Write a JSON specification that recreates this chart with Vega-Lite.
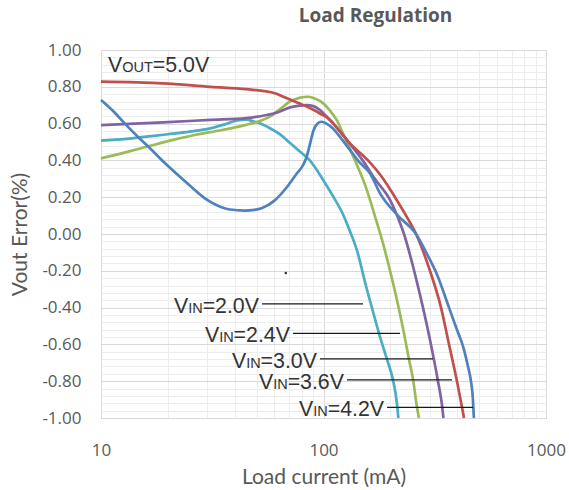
{
  "$schema": "https://vega.github.io/schema/vega-lite/v6.json",
  "width": 445,
  "height": 368,
  "autosize": {"type": "none"},
  "padding": {"left": 101, "top": 50, "right": 23, "bottom": 72},
  "background": "white",
  "title": {"text": "Load Regulation", "font": "Open Sans", "fontWeight": "bold", "fontSize": 19, "color": "#595959", "anchor": "middle", "dx": 52, "offset": 15},
  "config": {
    "view": {"stroke": "#D9D9D9", "strokeWidth": 1},
    "axis": {"labelFont": "Open Sans", "labelFontSize": 17, "labelColor": "#595959", "titleFont": "Lato", "titleFontSize": 21, "titleColor": "#595959", "titleFontWeight": "normal", "ticks": false, "domain": false, "labelOverlap": false, "labelFlush": false, "labelBound": false}
  },
  "datasets": {
    "curves": [
      {"vin":"2.0V","current":10,"error":0.507},{"vin":"2.0V","current":13,"error":0.517},{"vin":"2.0V","current":16,"error":0.529},{"vin":"2.0V","current":20,"error":0.542},{"vin":"2.0V","current":25,"error":0.556},{"vin":"2.0V","current":31,"error":0.574},{"vin":"2.0V","current":36,"error":0.596},{"vin":"2.0V","current":41,"error":0.617},{"vin":"2.0V","current":45,"error":0.621},{"vin":"2.0V","current":48,"error":0.614},{"vin":"2.0V","current":53,"error":0.596},{"vin":"2.0V","current":58,"error":0.572},{"vin":"2.0V","current":64,"error":0.54},{"vin":"2.0V","current":71,"error":0.493},{"vin":"2.0V","current":78,"error":0.45},{"vin":"2.0V","current":86,"error":0.405},{"vin":"2.0V","current":93,"error":0.35},{"vin":"2.0V","current":100,"error":0.29},{"vin":"2.0V","current":111,"error":0.2},{"vin":"2.0V","current":122,"error":0.11},{"vin":"2.0V","current":132,"error":0.01},{"vin":"2.0V","current":141.5,"error":-0.09},{"vin":"2.0V","current":155,"error":-0.28},{"vin":"2.0V","current":165,"error":-0.4},{"vin":"2.0V","current":177.6,"error":-0.54},{"vin":"2.0V","current":192.7,"error":-0.68},{"vin":"2.0V","current":205,"error":-0.79},{"vin":"2.0V","current":213.8,"error":-0.92},{"vin":"2.0V","current":217,"error":-1.0},
      {"vin":"2.4V","current":10,"error":0.411},{"vin":"2.4V","current":13,"error":0.445},{"vin":"2.4V","current":16,"error":0.474},{"vin":"2.4V","current":20,"error":0.505},{"vin":"2.4V","current":26.4,"error":0.538},{"vin":"2.4V","current":35,"error":0.565},{"vin":"2.4V","current":44.4,"error":0.592},{"vin":"2.4V","current":52,"error":0.615},{"vin":"2.4V","current":57.5,"error":0.638},{"vin":"2.4V","current":64,"error":0.68},{"vin":"2.4V","current":70.7,"error":0.72},{"vin":"2.4V","current":78,"error":0.74},{"vin":"2.4V","current":85.5,"error":0.746},{"vin":"2.4V","current":92,"error":0.735},{"vin":"2.4V","current":99.8,"error":0.71},{"vin":"2.4V","current":107,"error":0.67},{"vin":"2.4V","current":114.6,"error":0.62},{"vin":"2.4V","current":122,"error":0.55},{"vin":"2.4V","current":130,"error":0.475},{"vin":"2.4V","current":142,"error":0.37},{"vin":"2.4V","current":155,"error":0.255},{"vin":"2.4V","current":170,"error":0.1},{"vin":"2.4V","current":185,"error":-0.05},{"vin":"2.4V","current":201,"error":-0.22},{"vin":"2.4V","current":214,"error":-0.36},{"vin":"2.4V","current":230,"error":-0.54},{"vin":"2.4V","current":242,"error":-0.68},{"vin":"2.4V","current":252.6,"error":-0.79},{"vin":"2.4V","current":263,"error":-0.94},{"vin":"2.4V","current":268.5,"error":-1.0},
      {"vin":"3.0V","current":10,"error":0.592},{"vin":"3.0V","current":19,"error":0.607},{"vin":"3.0V","current":31,"error":0.62},{"vin":"3.0V","current":45,"error":0.63},{"vin":"3.0V","current":55.6,"error":0.647},{"vin":"3.0V","current":62,"error":0.66},{"vin":"3.0V","current":70.7,"error":0.688},{"vin":"3.0V","current":78,"error":0.698},{"vin":"3.0V","current":84,"error":0.7},{"vin":"3.0V","current":90,"error":0.695},{"vin":"3.0V","current":96.4,"error":0.674},{"vin":"3.0V","current":103,"error":0.64},{"vin":"3.0V","current":110.7,"error":0.6},{"vin":"3.0V","current":120,"error":0.55},{"vin":"3.0V","current":131.5,"error":0.49},{"vin":"3.0V","current":150,"error":0.4},{"vin":"3.0V","current":170,"error":0.3},{"vin":"3.0V","current":199,"error":0.185},{"vin":"3.0V","current":221,"error":0.058},{"vin":"3.0V","current":230,"error":0.0},{"vin":"3.0V","current":255.5,"error":-0.2},{"vin":"3.0V","current":280,"error":-0.4},{"vin":"3.0V","current":304,"error":-0.6},{"vin":"3.0V","current":327,"error":-0.8},{"vin":"3.0V","current":340,"error":-0.92},{"vin":"3.0V","current":346,"error":-1.0},
      {"vin":"3.6V","current":10,"error":0.828},{"vin":"3.6V","current":19,"error":0.819},{"vin":"3.6V","current":31,"error":0.8},{"vin":"3.6V","current":45,"error":0.787},{"vin":"3.6V","current":60.5,"error":0.765},{"vin":"3.6V","current":66,"error":0.746},{"vin":"3.6V","current":78,"error":0.71},{"vin":"3.6V","current":90,"error":0.675},{"vin":"3.6V","current":96.4,"error":0.655},{"vin":"3.6V","current":107,"error":0.62},{"vin":"3.6V","current":118,"error":0.56},{"vin":"3.6V","current":131.5,"error":0.493},{"vin":"3.6V","current":158.5,"error":0.4},{"vin":"3.6V","current":183,"error":0.31},{"vin":"3.6V","current":209.6,"error":0.2},{"vin":"3.6V","current":235,"error":0.1},{"vin":"3.6V","current":260.5,"error":0.0},{"vin":"3.6V","current":301,"error":-0.2},{"vin":"3.6V","current":337.5,"error":-0.4},{"vin":"3.6V","current":366.5,"error":-0.6},{"vin":"3.6V","current":398,"error":-0.8},{"vin":"3.6V","current":428,"error":-1.0},
      {"vin":"4.2V","current":10,"error":0.728},{"vin":"4.2V","current":11.3,"error":0.67},{"vin":"4.2V","current":12.8,"error":0.6},{"vin":"4.2V","current":14.6,"error":0.53},{"vin":"4.2V","current":16.6,"error":0.466},{"vin":"4.2V","current":19.2,"error":0.39},{"vin":"4.2V","current":22.2,"error":0.32},{"vin":"4.2V","current":25.5,"error":0.255},{"vin":"4.2V","current":29.3,"error":0.194},{"vin":"4.2V","current":33,"error":0.158},{"vin":"4.2V","current":38,"error":0.133},{"vin":"4.2V","current":44.4,"error":0.127},{"vin":"4.2V","current":49,"error":0.131},{"vin":"4.2V","current":52.7,"error":0.14},{"vin":"4.2V","current":60,"error":0.18},{"vin":"4.2V","current":68,"error":0.25},{"vin":"4.2V","current":76,"error":0.33},{"vin":"4.2V","current":81,"error":0.375},{"vin":"4.2V","current":84,"error":0.42},{"vin":"4.2V","current":87,"error":0.49},{"vin":"4.2V","current":90,"error":0.56},{"vin":"4.2V","current":94,"error":0.6},{"vin":"4.2V","current":98,"error":0.61},{"vin":"4.2V","current":103,"error":0.6},{"vin":"4.2V","current":110,"error":0.575},{"vin":"4.2V","current":120,"error":0.52},{"vin":"4.2V","current":131.5,"error":0.457},{"vin":"4.2V","current":145,"error":0.39},{"vin":"4.2V","current":161.8,"error":0.33},{"vin":"4.2V","current":179.5,"error":0.221},{"vin":"4.2V","current":216,"error":0.1},{"vin":"4.2V","current":260.5,"error":0.0},{"vin":"4.2V","current":295,"error":-0.12},{"vin":"4.2V","current":323.6,"error":-0.22},{"vin":"4.2V","current":366.5,"error":-0.4},{"vin":"4.2V","current":398,"error":-0.52},{"vin":"4.2V","current":426,"error":-0.62},{"vin":"4.2V","current":446,"error":-0.72},{"vin":"4.2V","current":460,"error":-0.8},{"vin":"4.2V","current":469.5,"error":-0.9},{"vin":"4.2V","current":474,"error":-1.0}
    ],
    "labels": [
      {"vin":"2.0V","rest":"=2.0V","y":-0.38,"x0":52.9,"x1":150.5},
      {"vin":"2.4V","rest":"=2.4V","y":-0.54,"x0":72.9,"x1":220.8},
      {"vin":"3.0V","rest":"=3.0V","y":-0.679,"x0":96.4,"x1":310.5},
      {"vin":"3.6V","rest":"=3.6V","y":-0.793,"x0":127.5,"x1":378},
      {"vin":"4.2V","rest":"=4.2V","y":-0.942,"x0":193,"x1":470}
    ],
    "note": [{"x":10.75,"y":0.882}],
    "speck": [{"x":67.7,"y":-0.212}]
  },
  "layer": [
    {
      "data": {"name": "curves"},
      "mark": {"type": "line", "strokeWidth": 2.7, "interpolate": "monotone"},
      "encoding": {
        "x": {"field": "current", "type": "quantitative", "scale": {"type": "log", "domain": [10, 1000]},
          "axis": {"title": "Load current (mA)", "values": [10,20,30,40,50,60,70,80,90,100,200,300,400,500,600,700,800,900,1000], "tickCount": 100,
            "labelExpr": "datum.value == 10 ? '10' : datum.value == 100 ? '100' : datum.value == 1000 ? '1000' : ''",
            "gridColor": {"condition": {"test": "datum.value == 10 || datum.value == 100 || datum.value == 1000", "value": "#D9D9D9"}, "value": "#EDEDED"},
            "labelOverlap": false, "labelPadding": 24, "titlePadding": 8}},
        "y": {"field": "error", "type": "quantitative", "scale": {"domain": [-1, 1], "nice": false, "zero": false},
          "axis": {"title": "Vout Error(%)", "values": [-1,-0.96,-0.92,-0.88,-0.84,-0.8,-0.76,-0.72,-0.68,-0.64,-0.6,-0.56,-0.52,-0.48,-0.44,-0.4,-0.36,-0.32,-0.28,-0.24,-0.2,-0.16,-0.12,-0.08,-0.04,0,0.04,0.08,0.12,0.16,0.2,0.24,0.28,0.32,0.36,0.4,0.44,0.48,0.52,0.56,0.6,0.64,0.68,0.72,0.76,0.8,0.84,0.88,0.92,0.96,1], "tickCount": 100,
            "labelExpr": "indexof([-1,-0.8,-0.6,-0.4,-0.2,0,0.2,0.4,0.6,0.8,1], datum.value) >= 0 ? replace(format(datum.value, '.2f'), '\u2212', '-') : ''",
            "gridColor": {"condition": {"test": "indexof([-1,-0.8,-0.6,-0.4,-0.2,0,0.2,0.4,0.6,0.8,1], datum.value) >= 0", "value": "#D9D9D9"}, "value": "#EDEDED"},
            "labelOverlap": false, "labelPadding": 20, "titlePadding": 11}},
        "color": {"field": "vin", "type": "nominal", "legend": null,
          "scale": {"domain": ["2.0V","2.4V","3.0V","3.6V","4.2V"], "range": ["#4BACC6","#9BBB59","#8064A2","#C0504D","#4F81BD"]}},
        "order": {"field": "current", "type": "quantitative"}
      }
    },
    {
      "data": {"name": "labels"},
      "mark": {"type": "rule", "color": "#1a1a1a", "strokeWidth": 1.3},
      "encoding": {"x": {"field": "x0", "type": "quantitative"}, "x2": {"field": "x1"}, "y": {"field": "y", "type": "quantitative"}}
    },
    {
      "data": {"name": "labels"},
      "mark": {"type": "text", "font": "Liberation Sans", "fontSize": 21.33, "color": "#333333", "align": "right", "baseline": "alphabetic", "dx": -3, "dy": 9},
      "encoding": {"x": {"field": "x0", "type": "quantitative"}, "y": {"field": "y", "type": "quantitative"}, "text": {"field": "rest"}}
    },
    {
      "data": {"name": "labels"},
      "mark": {"type": "text", "font": "Liberation Sans", "fontSize": 14.5, "color": "#333333", "align": "right", "baseline": "alphabetic", "dx": -59.3, "dy": 9},
      "encoding": {"x": {"field": "x0", "type": "quantitative"}, "y": {"field": "y", "type": "quantitative"}, "text": {"value": "IN"}}
    },
    {
      "data": {"name": "labels"},
      "mark": {"type": "text", "font": "Liberation Sans", "fontSize": 21.33, "color": "#333333", "align": "right", "baseline": "alphabetic", "dx": -73.8, "dy": 9},
      "encoding": {"x": {"field": "x0", "type": "quantitative"}, "y": {"field": "y", "type": "quantitative"}, "text": {"value": "V"}}
    },
    {
      "data": {"name": "note"},
      "mark": {"type": "text", "font": "Liberation Sans", "fontSize": 21.33, "color": "#333333", "align": "left", "baseline": "alphabetic"},
      "encoding": {"x": {"field": "x", "type": "quantitative"}, "y": {"field": "y", "type": "quantitative"}, "text": {"value": "V"}}
    },
    {
      "data": {"name": "note"},
      "mark": {"type": "text", "font": "Liberation Sans", "fontSize": 14.5, "color": "#333333", "align": "left", "baseline": "alphabetic", "dx": 14.2},
      "encoding": {"x": {"field": "x", "type": "quantitative"}, "y": {"field": "y", "type": "quantitative"}, "text": {"value": "OUT"}}
    },
    {
      "data": {"name": "note"},
      "mark": {"type": "text", "font": "Liberation Sans", "fontSize": 21.33, "color": "#333333", "align": "left", "baseline": "alphabetic", "dx": 44.8},
      "encoding": {"x": {"field": "x", "type": "quantitative"}, "y": {"field": "y", "type": "quantitative"}, "text": {"value": "=5.0V"}}
    },
    {
      "data": {"name": "speck"},
      "mark": {"type": "square", "size": 5, "color": "#333333", "opacity": 1},
      "encoding": {"x": {"field": "x", "type": "quantitative"}, "y": {"field": "y", "type": "quantitative"}}
    }
  ]
}
